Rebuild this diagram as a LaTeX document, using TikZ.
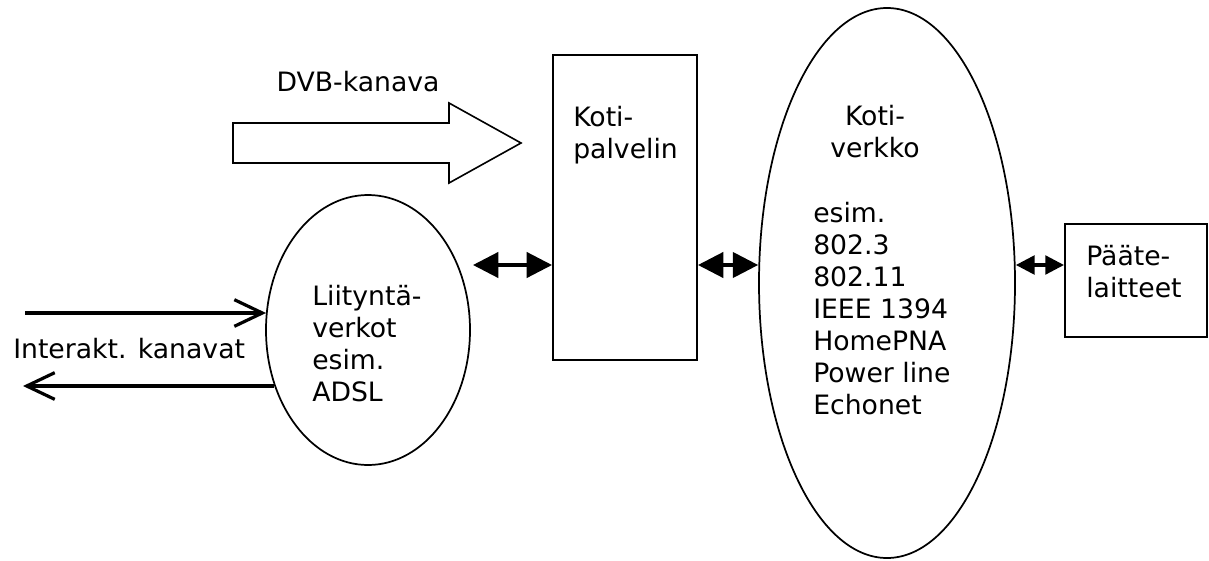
\documentclass[tikz,border=0pt]{standalone}
\usepackage{fontspec}
\setmainfont{DejaVu Sans}
\usetikzlibrary{shapes.geometric,arrows.meta}

\begin{document}
\begin{tikzpicture}[x=0.75pt,y=-0.75pt,
  every node/.style={font=\fontsize{20}{24}\selectfont, inner sep=0pt},
  txt/.style={anchor=north west, align=left},
  ctxt/.style={anchor=north, align=center},
  box/.style={draw, rectangle, line width=1.5pt},
  oval/.style={draw, ellipse, line width=1.3pt},
  link/.style={line width=2.4pt, {Triangle[length=19pt,width=19pt]}-{Triangle[length=19pt,width=19pt]}},
  smalllink/.style={line width=2.4pt, {Triangle[length=14pt,width=14pt]}-{Triangle[length=14pt,width=14pt]}},
  chan/.style={line width=2.4pt, -{Straight Barb[length=21pt,width=20pt,line width=2.4pt]}},
  bigarrow/.style={draw, line width=1.2pt, fill=white}]
\useasboundingbox (0,0) rectangle (1209,560);

% broadcast channel arrow
\draw[bigarrow] (233,123) -- (449,123) -- (449,103) -- (521,143) -- (449,183)
  -- (449,163) -- (233,163) -- cycle;
\node[anchor=base] (dvb) at (358,92) {DVB-kanava};

% home server
\node[box, minimum width=144pt*0.75, minimum height=305pt*0.75] (palv) at (625,207.5) {};
\node[txt] (palvt) at (573,106) {Koti-\\palvelin};

% home network
\node[oval, minimum width=256pt*0.75, minimum height=550pt*0.75] (verk) at (887,283) {};
\node[ctxt] (verkt) at (875,105) {Koti-\\verkko};
\node[txt] (verkl) at (813,201.7) {esim.\\802.3\\802.11\\IEEE 1394\\HomePNA\\Power line\\Echonet};

% terminals
\node[box, minimum width=142pt*0.75, minimum height=113pt*0.75] (paate) at (1136,280.5) {};
\node[txt] (paatet) at (1086,244.7) {Pääte-\\laitteet};

% access networks
\node[oval, minimum width=204pt*0.75, minimum height=270pt*0.75] (liit) at (368,330) {};
\node[txt] (liitt) at (312,284.7) {Liityntä-\\verkot\\esim.\\ADSL};

% interactive channels
\coordinate (inA) at (25,313);
\coordinate (outA) at (23,386);
\draw[chan] (inA) -- (inA -| liit.170.5);
\draw[chan] (outA -| liit.211) -- (outA);
\node[anchor=base west] (inter) at (13,358) {Interakt. kanavat};

% bidirectional links
\coordinate (d1) at (473,265);
\draw[link] (d1) -- (d1 -| palv.west);
\draw[link] (d1 -| palv.east) -- (d1 -| verk.west);
\draw[smalllink] (d1 -| verk.east) -- (d1 -| paate.west);
\end{tikzpicture}
\end{document}
